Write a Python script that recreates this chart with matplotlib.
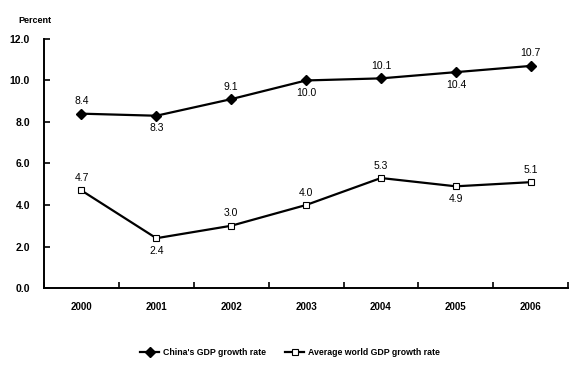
import numpy as np
import matplotlib.pyplot as plt

plt.rcParams['font.family'] = ['Liberation Sans', 'DejaVu Sans']

# ── Data ──────────────────────────────────────────────────────────
years = ["2000", "2001", "2002", "2003", "2004", "2005", "2006"]
china = [8.4, 8.3, 9.1, 10.0, 10.1, 10.4, 10.7]
world = [4.7, 2.4, 3.0, 4.0, 5.3, 4.9, 5.1]

# label above (+1) or below (-1) each point
china_pos = [1, -1, 1, -1, 1, -1, 1]
world_pos = [1, -1, 1, 1, 1, -1, 1]

# ── Figure ────────────────────────────────────────────────────────
fig = plt.figure(figsize=(5.76, 3.78), dpi=100)
ax = fig.add_axes([0.0764, 0.238, 0.910, 0.659])

x = np.arange(len(years))
ax.plot(x, china, color="black", lw=1.6, marker="D", ms=5,
        mfc="black", mec="black", label="China's GDP growth rate")
ax.plot(x, world, color="black", lw=1.6, marker="s", ms=4.5,
        mfc="white", mec="black", mew=0.8, label="Average world GDP growth rate")

for xs, vals, pos in [(x, china, china_pos), (x, world, world_pos)]:
    for xi, v, p in zip(xs, vals, pos):
        ax.annotate(f"{v:.1f}", (xi, v), xytext=(0, 9 * p), textcoords="offset points",
                    ha="center", va="center", fontsize=7.5)

ax.set_xlim(-0.5, len(years) - 0.5)
ax.set_ylim(0, 12)
ax.set_yticks(np.arange(0, 12.1, 2))
ax.set_yticklabels([f"{v:.1f}" for v in np.arange(0, 12.1, 2)],
                   fontsize=7.5, fontweight="bold")
ax.set_xticks(x)
ax.set_xticklabels(years, fontsize=7, fontweight="bold")
ax.set_xticks(np.arange(-0.5, len(years)), minor=True)

ax.tick_params(axis="x", which="major", length=0, pad=10)
ax.tick_params(axis="x", which="minor", direction="in", length=4, width=1.2)
ax.tick_params(axis="y", direction="in", length=4, width=1.2, pad=10)

for s in ["top", "right"]:
    ax.spines[s].set_visible(False)
for s in ["left", "bottom"]:
    ax.spines[s].set_linewidth(1.4)

fig.text(0.061, 0.945, "Percent", fontsize=6.5, fontweight="bold", ha="center", va="center")

fig.legend(loc="center", bbox_to_anchor=(0.503, 0.068), ncol=2, frameon=False,
           prop={"size": 6.3, "weight": "bold"}, handlelength=2.2, columnspacing=2.2,
           handletextpad=0.4)

plt.savefig("out.png", dpi=100)
